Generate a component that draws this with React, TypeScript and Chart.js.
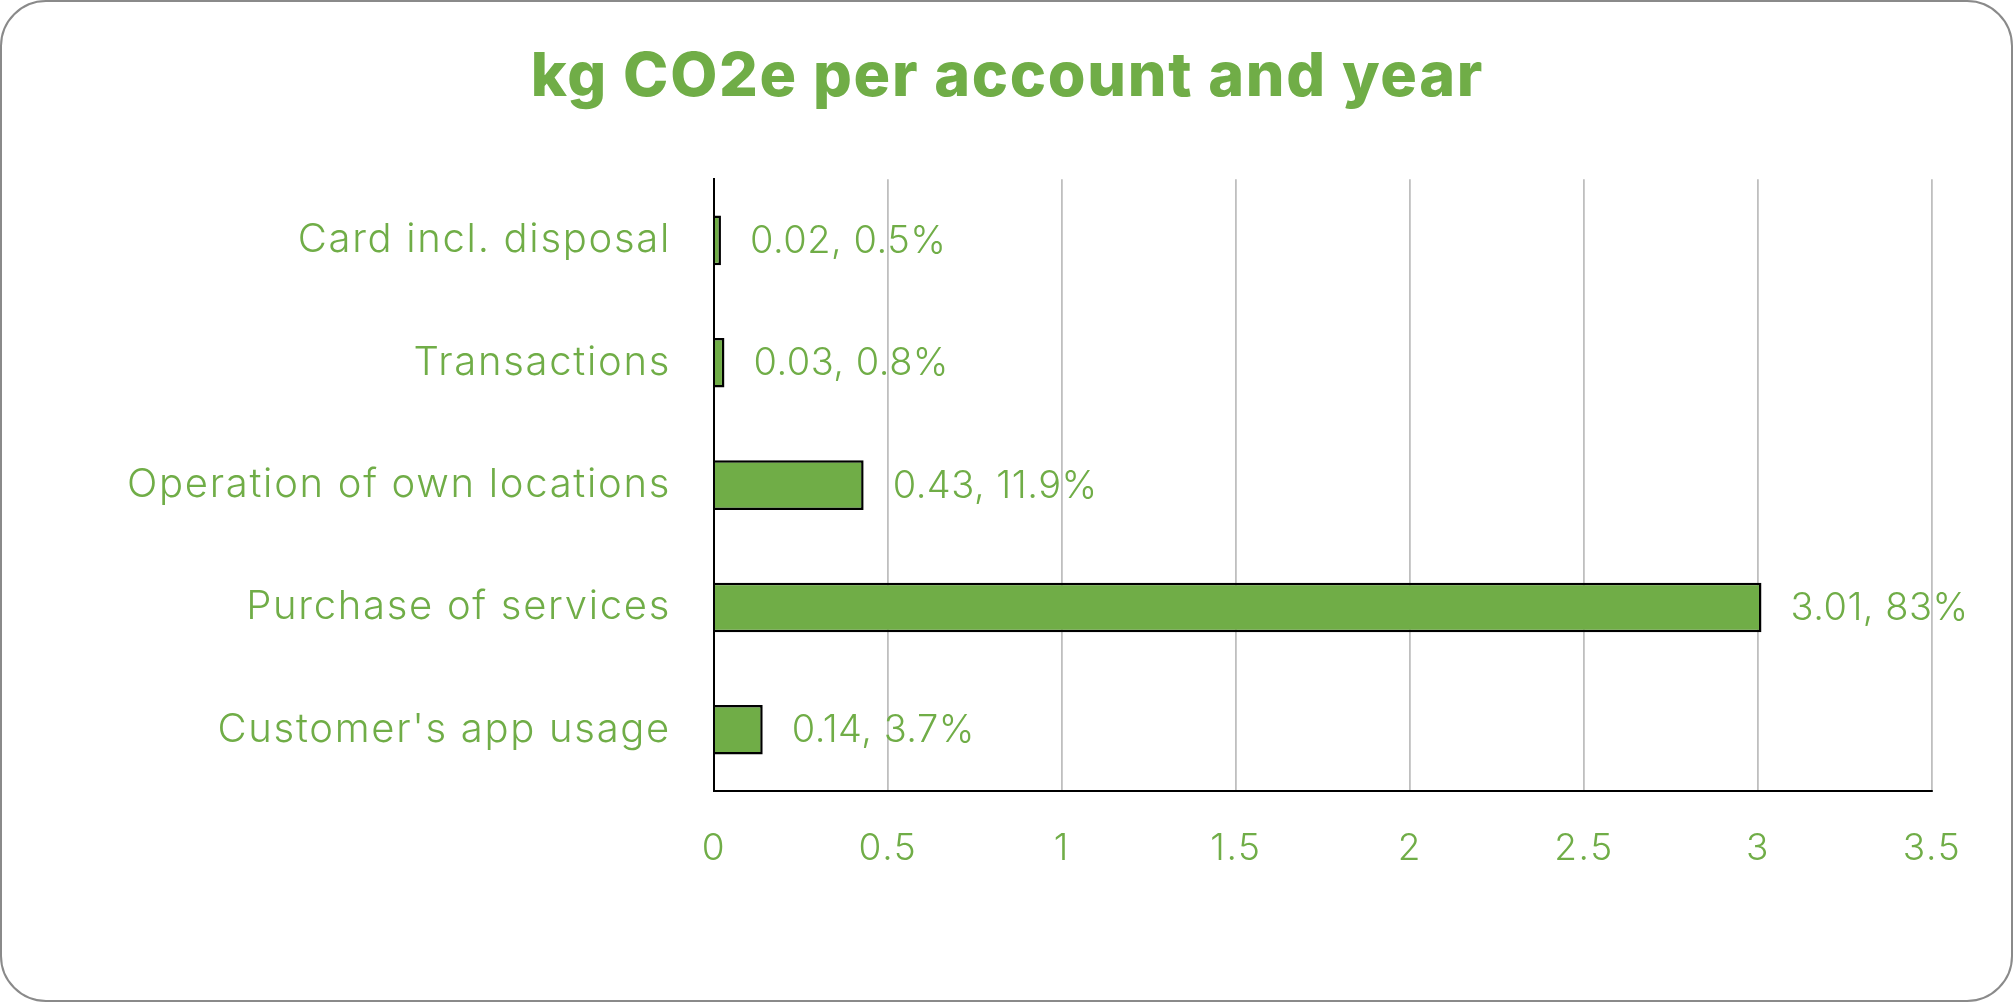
import { useEffect, useRef } from "react"
import { Chart, registerables } from "chart.js"

Chart.register(...registerables)

const categories = [
  "Card incl. disposal",
  "Transactions",
  "Operation of own locations",
  "Purchase of services",
  "Customer's app usage",
]
const values = [0.02, 0.03, 0.43, 3.01, 0.14]
const shares = ["0.5%", "0.8%", "11.9%", "83%", "3.7%"]
const xTicks = [0, 0.5, 1, 1.5, 2, 2.5, 3, 3.5]

const GREEN = "#70AD47"
const FONT = "Inter"

// the original typeface is a wide geometric one, so open the spacing a bit
const wideText = {
  id: "wideText",
  beforeDraw(chart: any) {
    chart.ctx.letterSpacing = "1.7px"
  },
}

// draws "value, share" to the right of each bar
const valueLabels = {
  id: "valueLabels",
  afterDatasetsDraw(chart: any) {
    const ctx = chart.ctx
    const meta = chart.getDatasetMeta(0)
    ctx.save()
    ctx.font = `300 38px ${FONT}`
    ctx.letterSpacing = "0.5px"
    ctx.fillStyle = GREEN
    ctx.textAlign = "left"
    ctx.textBaseline = "middle"
    meta.data.forEach((bar: any, i: number) => {
      ctx.fillText(`${values[i]}, ${shares[i]}`, bar.x + 29, bar.y + 1)
    })
    ctx.restore()
  },
}

export default function App() {
  const chartRef = useRef<HTMLCanvasElement>(null)
  const chartInstance = useRef<Chart | null>(null)

  useEffect(() => {
    document.body.style.margin = "0"
    document.body.style.overflow = "hidden"
    if (!chartRef.current) return

    if (chartInstance.current) {
      chartInstance.current.destroy()
    }

    const ctx = chartRef.current.getContext("2d")
    if (!ctx) return

    chartInstance.current = new Chart(ctx, {
      type: "bar",
      data: {
        labels: categories,
        datasets: [
          {
            label: "kg CO2e",
            data: values,
            backgroundColor: GREEN,
            borderColor: "#000000",
            borderWidth: 2.5,
            barPercentage: 0.405,
            categoryPercentage: 1,
          },
        ],
      },
      options: {
        indexAxis: "y",
        responsive: true,
        maintainAspectRatio: false,
        animation: false,
        layout: {
          padding: { left: 83, right: 81, top: 0, bottom: 0 },
        },
        scales: {
          x: {
            min: 0,
            max: 3.5,
            afterBuildTicks: (scale: any) => {
              scale.ticks = xTicks.map((v) => ({ value: v }))
            },
            afterFit: (scale: any) => {
              scale.height = 211
            },
            grid: {
              color: "#BFBFBF",
              lineWidth: 1.8,
              drawTicks: false,
            },
            border: { color: "#000000", width: 2 },
            ticks: {
              color: GREEN,
              padding: 36,
              font: { family: FONT, size: 37, weight: "300" },
              callback: (v: any) => String(v),
            },
          },
          y: {
            afterFit: (scale: any) => {
              scale.width = 631
            },
            grid: { display: false, drawTicks: false },
            border: { color: "#000000", width: 2 },
            ticks: {
              color: GREEN,
              padding: 43,
              font: { family: FONT, size: 40, weight: "300" },
            },
          },
        },
        plugins: {
          legend: { display: false },
          tooltip: { enabled: false },
          title: {
            display: true,
            text: "kg CO2e per account and year",
            color: GREEN,
            font: { family: FONT, size: 61, weight: "800" },
            padding: { top: 41, bottom: 65 },
          },
        },
      },
      plugins: [wideText, valueLabels],
    })

    return () => {
      if (chartInstance.current) {
        chartInstance.current.destroy()
        chartInstance.current = null
      }
    }
  }, [])

  return (
    <div style={{ position: "relative", width: 2013, height: 1002, background: "#ffffff" }}>
      <div style={{ position: "absolute", inset: 0 }}>
        <canvas ref={chartRef} />
      </div>
      <div
        style={{
          position: "absolute",
          inset: 0,
          border: "2px solid #8A8A8A",
          borderRadius: 46,
          boxSizing: "border-box",
          pointerEvents: "none",
        }}
      />
    </div>
  )
}
